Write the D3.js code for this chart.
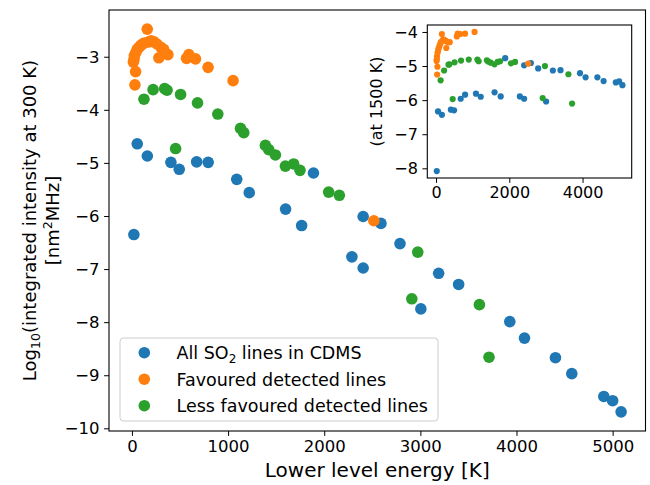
<!DOCTYPE html>
<html>
<head>
<meta charset="utf-8">
<script src="https://cdn.jsdelivr.net/npm/d3@7"></script>
<style>
  html, body { margin: 0; padding: 0; background: #fff; }
  svg { display: block; font-family: "DejaVu Sans", sans-serif; }
</style>
</head>
<body>
<svg id="chart" width="650" height="485"></svg>
<script>
// ---- data (lower level energy [K], log10 intensity at 300 K, at 1500 K) ----
const allE    = [20, 55, 160, 405, 492, 673, 793, 1090, 1220, 1598, 1765, 1888, 2288, 2405, 2405, 2590, 2788, 3005, 3190, 3398, 3930, 4083, 4405, 4575, 4908, 5000, 5088];
const all300  = [-6.35, -4.64, -4.87, -4.99, -5.12, -4.98, -4.99, -5.31, -5.56, -5.87, -6.18, -5.19, -6.77, -6.98, -6.01, -6.14, -6.52, -7.75, -7.08, -7.29, -7.99, -8.30, -8.67, -8.97, -9.40, -9.48, -9.69];
const all1500 = [-8.08, -6.33, -6.43, -6.28, -6.30, -5.96, -5.84, -5.81, -5.90, -5.77, -5.89, -4.77, -5.89, -5.96, -4.98, -4.91, -5.07, -6.04, -5.13, -5.12, -5.21, -5.33, -5.33, -5.44, -5.48, -5.45, -5.56];

const favE    = [31, 38, 21, 15, 25, 40, 55, 70, 90, 110, 130, 159, 175, 200, 230, 260, 300, 280, 330, 374, 568, 592, 661, 792, 1052, 2516];
const fav300  = [-3.53, -3.28, -3.05, -3.10, -2.98, -2.92, -2.86, -2.83, -2.79, -2.76, -2.74, -2.48, -2.72, -2.70, -2.72, -2.76, -2.82, -3.02, -2.86, -2.96, -3.03, -2.96, -3.04, -3.20, -3.45, -6.09];
const fav1500 = [-5.25, -5.02, -4.80, -4.85, -4.72, -4.62, -4.55, -4.48, -4.42, -4.36, -4.30, -4.06, -4.25, -4.22, -4.24, -4.26, -4.28, -4.47, -4.30, -4.30, -4.13, -4.05, -4.06, -4.05, -4.00, -4.93];

const lessE    = [125, 220, 340, 365, 454, 506, 682, 893, 1129, 1163, 1388, 1423, 1492, 1596, 1682, 1748, 2046, 2157, 2911, 2973, 3614, 3714];
const less300  = [-3.80, -3.62, -3.60, -3.63, -4.73, -3.71, -3.87, -4.08, -4.35, -4.43, -4.67, -4.75, -4.85, -5.06, -5.02, -5.14, -5.55, -5.61, -7.56, -6.68, -7.67, -8.66];
const less1500 = [-5.42, -5.13, -4.96, -4.95, -5.97, -4.89, -4.84, -4.81, -4.81, -4.86, -4.83, -4.87, -4.90, -4.95, -4.88, -4.86, -4.92, -4.88, -5.94, -5.00, -5.24, -6.10];

const seriesNames = ["All SO\u2082 lines in CDMS", "Favoured detected lines", "Less favoured detected lines"];
const seriesColors = ["#1f77b4", "#ff7f0e", "#2ca02c"];
const mainXTicks = [0, 1000, 2000, 3000, 4000, 5000];
const mainYTicks = [-3, -4, -5, -6, -7, -8, -9, -10];
const insetXTicks = [0, 2000, 4000];
const insetYTicks = [-4, -5, -6, -7, -8];

const series = [
  {E: allE, v300: all300, v1500: all1500},
  {E: favE, v300: fav300, v1500: fav1500},
  {E: lessE, v300: less300, v1500: less1500}
];

// ---- helpers ----
function padded(vals) {
  const [a, b] = d3.extent(vals);
  const p = 0.05 * (b - a);
  return [a - p, b + p];
}
const everyE = [].concat(allE, favE, lessE);
const every300 = [].concat(all300, fav300, less300);
const every1500 = [].concat(all1500, fav1500, less1500);

const svg = d3.select("#chart");
const fmt = d3.format("d");

// ---- main axes ----
const M = {l: 109, r: 645.5, t: 10, b: 431};
const x = d3.scaleLinear().domain(padded(everyE)).range([M.l, M.r]);
const y = d3.scaleLinear().domain(padded(every300)).range([M.b, M.t]);

const main = svg.append("g");
series.forEach((s, i) => {
  main.append("g").selectAll("circle").data(s.E).join("circle")
    .attr("cx", d => x(d))
    .attr("cy", (d, j) => y(s.v300[j]))
    .attr("r", 5.8)
    .attr("fill", seriesColors[i]);
});

const xAxis = svg.append("g").attr("transform", `translate(0,${M.b})`)
  .call(d3.axisBottom(x).tickValues(mainXTicks).tickFormat(fmt).tickSizeOuter(0).tickSize(4.9).tickPadding(4));
const yAxis = svg.append("g").attr("transform", `translate(${M.l},0)`)
  .call(d3.axisLeft(y).tickValues(mainYTicks).tickFormat(fmt).tickSizeOuter(0).tickSize(4.9).tickPadding(4.5));
[xAxis, yAxis].forEach(a => {
  a.select(".domain").remove();
  a.selectAll("line").attr("stroke", "#000").attr("stroke-width", 1);
  a.selectAll("text").attr("font-size", 16.5).attr("fill", "#000").attr("font-family", "DejaVu Sans");
});

svg.append("rect").attr("x", M.l).attr("y", M.t).attr("width", M.r - M.l).attr("height", M.b - M.t)
  .attr("fill", "none").attr("stroke", "#000").attr("stroke-width", 1.1);

// axis labels
svg.append("text").attr("x", (M.l + M.r) / 2).attr("y", 477)
  .attr("text-anchor", "middle").attr("font-size", 20).text("Lower level energy [K]");

const yl = svg.append("g").attr("transform", `translate(36,${(M.t + M.b) / 2}) rotate(-90)`);
const t1 = yl.append("text").attr("x", 0).attr("y", 0).attr("text-anchor", "middle").attr("font-size", 18);
t1.append("tspan").text("Log");
t1.append("tspan").attr("font-size", 12.5).attr("dy", 4).text("10");
t1.append("tspan").attr("dy", -4).text("(integrated intensity at 300 K)");
const t2 = yl.append("text").attr("x", 0).attr("y", 23).attr("text-anchor", "middle").attr("font-size", 18);
t2.append("tspan").text("[nm");
t2.append("tspan").attr("font-size", 12.5).attr("dy", -7).text("2");
t2.append("tspan").attr("dy", 7).text("MHz]");

// ---- legend ----
const lg = svg.append("g");
lg.append("rect").attr("x", 120).attr("y", 338).attr("width", 318).attr("height", 83)
  .attr("rx", 3.5).attr("fill", "#fff").attr("fill-opacity", 0.8).attr("stroke", "#cccccc").attr("stroke-width", 1);
seriesNames.forEach((name, i) => {
  const cy = 352.7 + i * 26.5;
  lg.append("circle").attr("cx", 144.3).attr("cy", cy).attr("r", 5.8).attr("fill", seriesColors[i]);
  const t = lg.append("text").attr("x", 176.5).attr("y", cy + 6.3).attr("font-size", 17.5);
  if (i === 0) {
    t.append("tspan").text("All SO");
    t.append("tspan").attr("font-size", 12).attr("dy", 4).text("2");
    t.append("tspan").attr("dy", -4).text(" lines in CDMS");
  } else {
    t.text(name);
  }
});

// ---- inset ----
const I = {l: 427.3, r: 631.7, t: 25, b: 178};
const xi = d3.scaleLinear().domain(padded(everyE)).range([I.l, I.r]);
const yi = d3.scaleLinear().domain(padded(every1500)).range([I.b, I.t]);

svg.append("rect").attr("x", I.l).attr("y", I.t).attr("width", I.r - I.l).attr("height", I.b - I.t)
  .attr("fill", "#fff");
const ins = svg.append("g");
series.forEach((s, i) => {
  ins.append("g").selectAll("circle").data(s.E).join("circle")
    .attr("cx", d => xi(d))
    .attr("cy", (d, j) => yi(s.v1500[j]))
    .attr("r", 3.1)
    .attr("fill", seriesColors[i]);
});
const xiAxis = svg.append("g").attr("transform", `translate(0,${I.b})`)
  .call(d3.axisBottom(xi).tickValues(insetXTicks).tickFormat(fmt).tickSizeOuter(0).tickSize(4.9).tickPadding(4));
const yiAxis = svg.append("g").attr("transform", `translate(${I.l},0)`)
  .call(d3.axisLeft(yi).tickValues(insetYTicks).tickFormat(fmt).tickSizeOuter(0).tickSize(4.9).tickPadding(4.5));
[xiAxis, yiAxis].forEach(a => {
  a.select(".domain").remove();
  a.selectAll("line").attr("stroke", "#000").attr("stroke-width", 1);
  a.selectAll("text").attr("font-size", 16).attr("fill", "#000").attr("font-family", "DejaVu Sans");
});
svg.append("rect").attr("x", I.l).attr("y", I.t).attr("width", I.r - I.l).attr("height", I.b - I.t)
  .attr("fill", "none").attr("stroke", "#000").attr("stroke-width", 1.1);
svg.append("text").attr("transform", `translate(382,${(I.t + I.b) / 2}) rotate(-90)`)
  .attr("text-anchor", "middle").attr("font-size", 16).text("(at 1500 K)");
</script>
</body>
</html>
